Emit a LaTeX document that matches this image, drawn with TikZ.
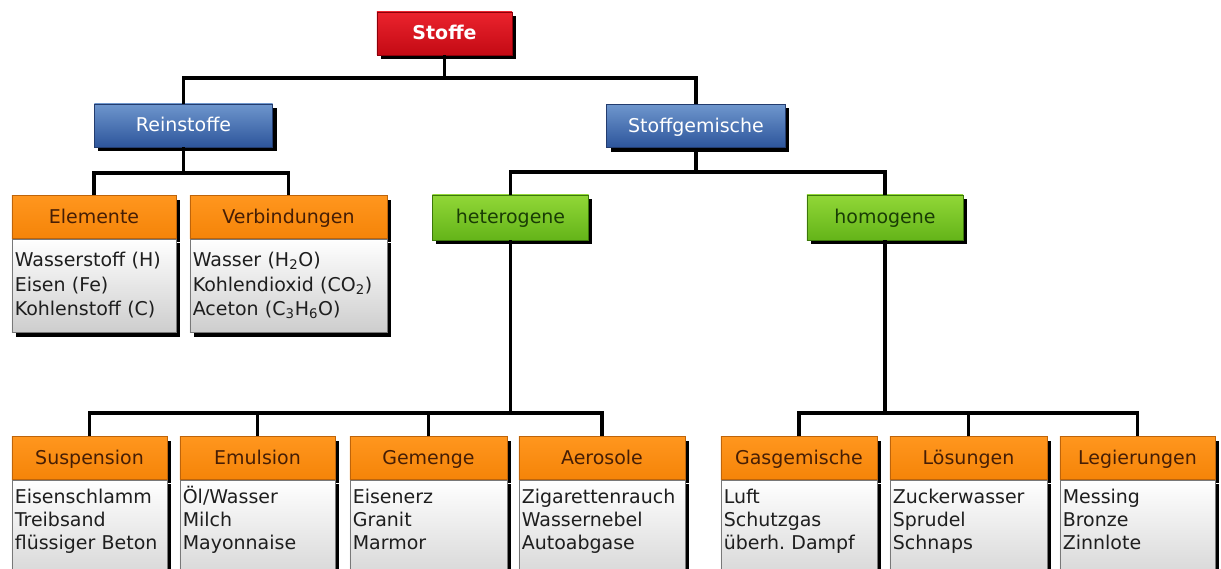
\documentclass[tikz,border=0pt]{standalone}
\usepackage{fontspec}
\setmainfont{DejaVu Sans}
\usetikzlibrary{positioning,shadows}

\definecolor{roottop}{RGB}{235,35,45}
\definecolor{rootbot}{RGB}{195,10,20}
\definecolor{rootline}{RGB}{140,0,10}
\definecolor{kindtop}{RGB}{110,150,205}
\definecolor{kindbot}{RGB}{45,85,155}
\definecolor{kindline}{RGB}{35,60,110}
\definecolor{mixtop}{RGB}{145,215,55}
\definecolor{mixbot}{RGB}{100,180,25}
\definecolor{mixline}{RGB}{60,120,10}
\definecolor{mixtext}{RGB}{25,60,5}
\definecolor{headtop}{RGB}{255,150,30}
\definecolor{headbot}{RGB}{245,132,8}
\definecolor{headline}{RGB}{190,100,10}
\definecolor{headtext}{RGB}{70,30,5}
\definecolor{listbot}{RGB}{205,205,205}
\definecolor{listline}{RGB}{120,120,120}
\definecolor{listtext}{RGB}{30,30,30}

\frenchspacing

\begin{document}
\begin{tikzpicture}[x=0.025cm, y=-0.025cm,
		conn/.style = {draw=black, line width=2.3pt},
		box/.style = {rectangle, draw, line width=0.5pt, inner sep=2pt,
			font=\fontsize{13.5}{17}\selectfont, text height=11pt, text depth=2pt,
			general shadow={fill=black, shadow xshift=2.8pt, shadow yshift=-2.8pt}},
		root box/.style = {box, draw=rootline, top color=roottop, bottom color=rootbot,
			text=white, font=\fontsize{13.5}{17}\selectfont\bfseries,
			minimum width=3.375cm, minimum height=1.075cm},
		kind box/.style = {box, draw=kindline, top color=kindtop, bottom color=kindbot,
			text=white, minimum width=4.46cm, minimum height=1.08cm},
		mix box/.style = {box, draw=mixline, top color=mixtop, bottom color=mixbot,
			text=mixtext, minimum width=3.9cm, minimum height=1.125cm},
		head box/.style = {box, draw=headline, top color=headtop, bottom color=headbot,
			text=headtext, minimum width=#1, minimum height=1.07cm},
		list box/.style = {box, draw=listline, top color=white, bottom color=listbot,
			text=listtext, align=left, inner ysep=4pt, text width=#1-4pt},
		top list/.style = {list box=#1, font=\fontsize{13.5}{17.5}\selectfont,
			text height=15.5pt, text depth=43pt},
		low list/.style = {list box=#1, font=\fontsize{13.5}{16.5}\selectfont,
			text height=12.3pt, text depth=66pt}]

	\useasboundingbox (0,0) rectangle (1221,569);

	% top part
	\node[root box] (stoffe) at (444.5,33.5) {Stoffe};
	\node[kind box] (rein) at (183.5,125.5) {Reinstoffe};
	\node[kind box] (gemisch) at (696,126) {Stoffgemische};

	\node[head box=4.1cm] (elem) at (94,217) {Elemente};
	\node[top list=4.1cm, below=0pt of elem] (elemlist)
		{Wasserstoff (H)\\Eisen (Fe)\\Kohlenstoff (C)};
	\node[head box=4.925cm] (verb) at (288.5,217) {Verbindungen};
	\node[top list=4.925cm, below=0pt of verb] (verblist)
		{Wasser (H\textsubscript{2}O)\\Kohlendioxid (CO\textsubscript{2})\\Aceton (C\textsubscript{3}H\textsubscript{6}O)};

	\node[mix box] (hetero) at (510.5,217.5) {heterogene};
	\node[mix box] (homo) at (885,217.5) {homogene};

	% bottom row
	\node[head box=3.875cm] (susp) at (89.5,458) {Suspension};
	\node[low list=3.875cm, below=0pt of susp] (susplist)
		{Eisenschlamm\\Treibsand\\flüssiger Beton};
	\node[head box=3.875cm] (emul) at (257.5,458) {Emulsion};
	\node[low list=3.875cm, below=0pt of emul] (emullist)
		{Öl/Wasser\\Milch\\Mayonnaise};
	\node[head box=3.925cm] (gemenge) at (428.5,458) {Gemenge};
	\node[low list=3.925cm, below=0pt of gemenge] (gemengelist)
		{Eisenerz\\Granit\\Marmor};
	\node[head box=4.15cm] (aero) at (602,458) {Aerosole};
	\node[low list=4.15cm, below=0pt of aero] (aerolist)
		{Zigarettenrauch\\Wassernebel\\Autoabgase};
	\node[head box=3.9cm] (gas) at (799,458) {Gasgemische};
	\node[low list=3.9cm, below=0pt of gas] (gaslist)
		{Luft\\Schutzgas\\überh. Dampf};
	\node[head box=3.925cm] (loes) at (968.5,458) {Lösungen};
	\node[low list=3.925cm, below=0pt of loes] (loeslist)
		{Zuckerwasser\\Sprudel\\Schnaps};
	\node[head box=3.875cm] (leg) at (1137.5,458) {Legierungen};
	\node[low list=3.875cm, below=0pt of leg] (leglist)
		{Messing\\Bronze\\Zinnlote};

	% bus points
	\coordinate (b0) at (444.5,78);
	\coordinate (b1) at (183.5,173);
	\coordinate (b2) at (696,172);
	\coordinate (b3) at (510.5,413);
	\coordinate (b4) at (885,413);

	\draw[conn] (stoffe) -- (b0);
	\draw[conn] (rein) |- (b0) -| (gemisch);
	\draw[conn] (rein) -- (b1);
	\draw[conn] (elem) |- (b1) -| (verb);
	\draw[conn] (gemisch) -- (b2);
	\draw[conn] (hetero) |- (b2) -| (homo);
	\draw[conn] (hetero) -- (b3);
	\draw[conn] (susp) |- (b3) -| (aero);
	\draw[conn] (emul) |- (b3);
	\draw[conn] (gemenge) |- (b3);
	\draw[conn] (homo) -- (b4);
	\draw[conn] (gas) |- (b4) -| (leg);
	\draw[conn] (loes) |- (b4);

\end{tikzpicture}
\end{document}
